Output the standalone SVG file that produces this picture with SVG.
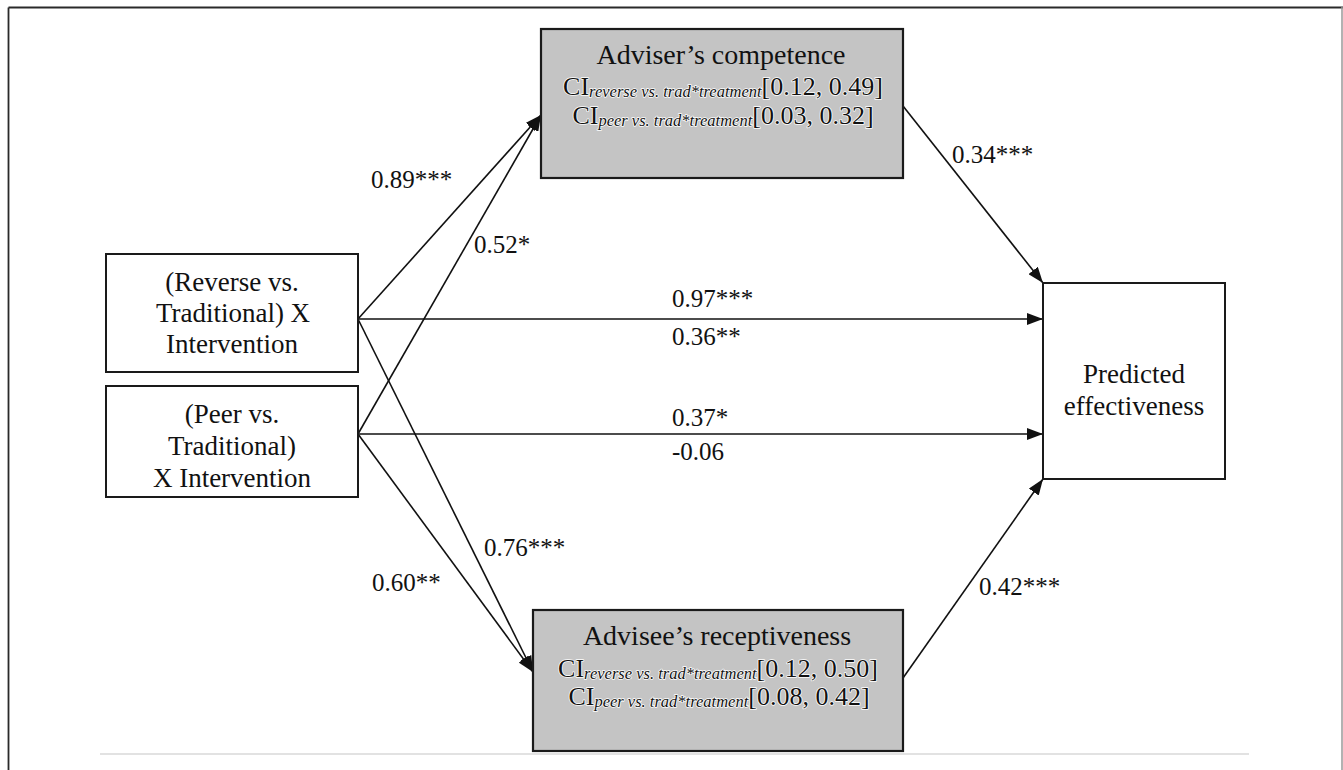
<svg xmlns="http://www.w3.org/2000/svg" width="1343" height="770" viewBox="0 0 1343 770" font-family="'Liberation Serif', 'Times New Roman', 'DejaVu Serif', serif">
<style>
.box{fill:#fff;stroke:#1a1a1a;stroke-width:2}
.gbox{fill:#c4c4c4;stroke:#1a1a1a;stroke-width:2.2}
text{font-family:"Liberation Serif","Times New Roman","DejaVu Serif",serif;fill:#111}
.head{font-size:28px}
.node{font-size:27px}
.ci{font-size:26px;stroke:#fff;stroke-width:1.5;paint-order:stroke;stroke-linejoin:round}
.sub{font-size:16.5px;font-style:italic}
.lbl{font-size:25px}
.conn line{stroke:#111;stroke-width:1.6;fill:none}
</style>
<defs>
<marker id="ah" viewBox="0 0 16 12" markerWidth="16" markerHeight="12" refX="16" refY="6" orient="auto" markerUnits="userSpaceOnUse">
<path d="M0,0 L16,6 L0,12 Z" fill="#111"/>
</marker>
</defs>
<rect x="0" y="0" width="1343" height="770" fill="#fff"/>
<g id="frame">
<line x1="8.5" y1="7.5" x2="1343" y2="7.5" stroke="#2a2a2a" stroke-width="1.8"/>
<line x1="8.5" y1="7.5" x2="8.5" y2="770" stroke="#2a2a2a" stroke-width="1.8"/>
<line x1="1342" y1="7" x2="1342" y2="770" stroke="#999" stroke-width="1.5"/>
<line x1="100" y1="754" x2="1249" y2="754" stroke="#e2e2e2" stroke-width="2"/>
</g>
<g class="conn" id="connectors">
<line x1="358" y1="319" x2="541" y2="115" marker-end="url(#ah)"/>
<line x1="358" y1="434" x2="541" y2="115" marker-end="url(#ah)"/>
<line x1="358" y1="319" x2="533" y2="672" marker-end="url(#ah)"/>
<line x1="358" y1="434" x2="533" y2="672" marker-end="url(#ah)"/>
<line x1="358" y1="319" x2="1043" y2="319" marker-end="url(#ah)"/>
<line x1="358" y1="434" x2="1043" y2="434" marker-end="url(#ah)"/>
<line x1="903" y1="106" x2="1043" y2="283" marker-end="url(#ah)"/>
<line x1="903" y1="678" x2="1043" y2="479" marker-end="url(#ah)"/>
</g>
<g id="labels" class="lbl" font-family="'Liberation Serif', serif">
<text class="lbl" x="371" y="188">0.89***</text>
<text class="lbl" x="474" y="253">0.52*</text>
<text class="lbl" x="672" y="307">0.97***</text>
<text class="lbl" x="672" y="345">0.36**</text>
<text class="lbl" x="672" y="426">0.37*</text>
<text class="lbl" x="672" y="460">-0.06</text>
<text class="lbl" x="484" y="556">0.76***</text>
<text class="lbl" x="372" y="591">0.60**</text>
<text class="lbl" x="952" y="163">0.34***</text>
<text class="lbl" x="979" y="595">0.42***</text>
</g>
<g id="node-competence">
<rect class="gbox" x="541" y="29" width="362" height="149"/>
<text class="head" x="721" y="64" text-anchor="middle">Adviser’s competence</text>
<text class="ci" x="723" y="95" text-anchor="middle">CI<tspan class="sub" dy="2">reverse vs. trad*treatment</tspan><tspan dy="-2">[0.12, 0.49]</tspan></text>
<text class="ci" x="723" y="124" text-anchor="middle">CI<tspan class="sub" dy="2">peer vs. trad*treatment</tspan><tspan dy="-2">[0.03, 0.32]</tspan></text>
</g>
<g id="node-receptiveness">
<rect class="gbox" x="533" y="610" width="370" height="141"/>
<text class="head" x="717" y="645" text-anchor="middle">Advisee’s receptiveness</text>
<text class="ci" x="718" y="677" text-anchor="middle">CI<tspan class="sub" dy="2">reverse vs. trad*treatment</tspan><tspan dy="-2">[0.12, 0.50]</tspan></text>
<text class="ci" x="719" y="705" text-anchor="middle">CI<tspan class="sub" dy="2">peer vs. trad*treatment</tspan><tspan dy="-2">[0.08, 0.42]</tspan></text>
</g>
<g id="node-reverse">
<rect class="box" x="106" y="254" width="252" height="118"/>
<text class="node" x="232" y="291" text-anchor="middle">(Reverse vs.</text>
<text class="node" x="233" y="322" text-anchor="middle">Traditional) X</text>
<text class="node" x="232" y="353" text-anchor="middle">Intervention</text>
</g>
<g id="node-peer">
<rect class="box" x="106" y="386" width="252" height="111"/>
<text class="node" x="232" y="423" text-anchor="middle">(Peer vs.</text>
<text class="node" x="232" y="455" text-anchor="middle">Traditional)</text>
<text class="node" x="232" y="487" text-anchor="middle">X Intervention</text>
</g>
<g id="node-effectiveness">
<rect class="box" x="1043" y="283" width="182" height="196"/>
<text class="node" x="1134" y="383" text-anchor="middle">Predicted</text>
<text class="node" x="1134" y="415" text-anchor="middle">effectiveness</text>
</g>
</svg>
